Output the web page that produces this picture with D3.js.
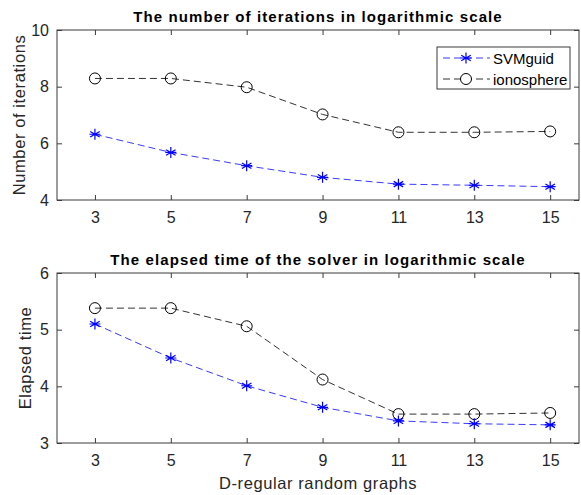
<!DOCTYPE html>
<html>
<head>
<meta charset="utf-8">
<script src="https://cdn.jsdelivr.net/npm/d3@7"></script>
<style>
  body { margin: 0; background: #fff; }
  svg { font-family: "Liberation Sans", Arial, sans-serif; }
  .tick text { font-size: 16px; fill: #262626; }
</style>
</head>
<body>
<svg width="581" height="495"></svg>
<script>
var degrees = [3, 5, 7, 9, 11, 13, 15];
var seriesNames = ["SVMguid", "ionosphere"];
// top panel: number of iterations (log scale)
var iterSVMguid = [6.32, 5.68, 5.21, 4.80, 4.56, 4.52, 4.47];
var iterIonosphere = [8.29, 8.29, 7.98, 7.02, 6.39, 6.39, 6.42];
// bottom panel: elapsed time (log scale)
var timeSVMguid = [5.10, 4.50, 4.01, 3.63, 3.39, 3.34, 3.32];
var timeIonosphere = [5.38, 5.38, 5.06, 4.12, 3.51, 3.51, 3.53];
var iterTicks = [4, 6, 8, 10];
var timeTicks = [3, 4, 5, 6];

var svg = d3.select("svg");
var left = 57, right = 579;

var x = d3.scaleLinear().domain([2, 15.76]).range([left, right]);

function panel(top, bottom, yDomain, yTicks, title, ylabel, ylabelX, s1, s2, showLegend) {
  var y = d3.scaleLinear().domain(yDomain).range([bottom, top]);
  var g = svg.append("g");

  // frame
  g.append("rect")
    .attr("x", left).attr("y", top)
    .attr("width", right - left).attr("height", bottom - top)
    .attr("fill", "#fff").attr("stroke", "#3a3a3a").attr("stroke-width", 1);

  // axes with inward ticks on all four sides
  var xb = g.append("g").attr("transform", "translate(0," + bottom + ")")
    .call(d3.axisBottom(x).tickValues(degrees).tickSizeInner(-5).tickSizeOuter(0).tickPadding(12));
  var xt = g.append("g").attr("transform", "translate(0," + top + ")")
    .call(d3.axisTop(x).tickValues(degrees).tickSizeInner(-5).tickSizeOuter(0).tickFormat(""));
  var yl = g.append("g").attr("transform", "translate(" + left + ",0)")
    .call(d3.axisLeft(y).tickValues(yTicks).tickSizeInner(-5).tickSizeOuter(0)
      .tickPadding(8).tickFormat(d3.format("d")));
  var yr = g.append("g").attr("transform", "translate(" + right + ",0)")
    .call(d3.axisRight(y).tickValues(yTicks).tickSizeInner(-5).tickSizeOuter(0).tickFormat(""));
  [xb, xt, yl, yr].forEach(function(a) {
    a.select(".domain").remove();
    a.selectAll(".tick line").attr("stroke", "#3a3a3a");
  });

  g.append("text")
    .attr("x", (left + right) / 2).attr("y", top - 8)
    .attr("text-anchor", "middle")
    .attr("font-size", "15px").attr("font-weight", "bold").attr("fill", "#000")
    .attr("letter-spacing", "1.1px")
    .text(title);

  g.append("text")
    .attr("transform", "translate(" + ylabelX + "," + (top + bottom) / 2 + ") rotate(-90)")
    .attr("text-anchor", "middle")
    .attr("font-size", "16.5px").attr("fill", "#262626")
    .attr("letter-spacing", "0.6px")
    .text(ylabel);

  var line = d3.line().x(function(d, i) { return x(degrees[i]); }).y(function(d) { return y(d); });

  g.append("path").datum(s2).attr("d", line)
    .attr("fill", "none").attr("stroke", "#333").attr("stroke-width", 1)
    .attr("stroke-dasharray", "7,4");
  g.append("path").datum(s1).attr("d", line)
    .attr("fill", "none").attr("stroke", "#3a3aff").attr("stroke-width", 1)
    .attr("stroke-dasharray", "7,4");

  g.selectAll(".circ").data(s2).enter().append("circle")
    .attr("cx", function(d, i) { return x(degrees[i]); })
    .attr("cy", function(d) { return y(d); })
    .attr("r", 5.5).attr("fill", "none").attr("stroke", "#000").attr("stroke-width", 1);

  s1.forEach(function(d, i) { star(g, x(degrees[i]), y(d)); });

  if (showLegend) {
    var lg = g.append("g");
    lg.append("rect").attr("x", 437).attr("y", 47).attr("width", 133).attr("height", 42)
      .attr("fill", "#fff").attr("stroke", "#3a3a3a").attr("stroke-width", 1);
    [["#3a3aff", 58, seriesNames[0]], ["#333", 79, seriesNames[1]]].forEach(function(r, k) {
      lg.append("line").attr("x1", 443).attr("x2", 490).attr("y1", r[1]).attr("y2", r[1])
        .attr("stroke", r[0]).attr("stroke-dasharray", "7,4");
      if (k === 0) star(lg, 466, r[1]);
      else lg.append("circle").attr("cx", 466).attr("cy", r[1]).attr("r", 5.5)
        .attr("fill", "#fff").attr("stroke", "#000");
      lg.append("text").attr("x", 493).attr("y", r[1] + 5.5)
        .attr("font-size", "15px").attr("fill", "#000").text(r[2]);
    });
  }
}

function star(g, cx, cy) {
  var r = 5.5, p = "";
  [0, 60, 120].forEach(function(a) {
    var t = (a + 90) * Math.PI / 180;
    p += "M" + (cx + r * Math.cos(t)) + "," + (cy + r * Math.sin(t)) +
         "L" + (cx - r * Math.cos(t)) + "," + (cy - r * Math.sin(t));
  });
  p += "M" + (cx - r) + "," + cy + "L" + (cx + r) + "," + cy;
  g.append("path").attr("d", p).attr("stroke", "#0000ff").attr("stroke-width", 1.2).attr("fill", "none");
}

panel(30, 200, [4, 10], iterTicks, "The number of iterations in logarithmic scale",
  "Number of iterations", 25, iterSVMguid, iterIonosphere, true);
panel(273, 443, [3, 6], timeTicks, "The elapsed time of the solver in logarithmic scale",
  "Elapsed time", 31, timeSVMguid, timeIonosphere, false);

svg.append("text")
  .attr("x", (left + right) / 2).attr("y", 489)
  .attr("text-anchor", "middle")
  .attr("font-size", "16.5px").attr("fill", "#262626")
  .attr("letter-spacing", "0.6px")
  .text("D-regular random graphs");
</script>
</body>
</html>
